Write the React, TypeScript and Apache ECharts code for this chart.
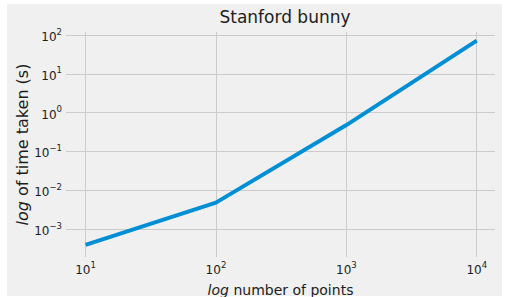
import React, { useEffect, useRef } from "react";
import * as echarts from "echarts";

const numberOfPoints = [10, 100, 1000, 10000];
const timeTaken = [3.9e-4, 4.8e-3, 0.48, 72];
const titleText = "Stanford bunny";
const xAxisName = "{i|log} number of points";
const yAxisName = "{i|log} of time taken (s)";

const FONT = "DejaVu Sans";
const TEXT = "#1c1c1c";
const GRID = "#cbcbcb";

function powLabel(v: number): string {
  const e = Math.log10(v);
  const r = Math.round(e);
  if (Math.abs(e - r) > 1e-6) return "";
  const s = r < 0 ? "\u2212" + -r : String(r);
  return "{b|10}{s|" + s + "}";
}

const richLabel = {
  b: { fontFamily: FONT, fontSize: 12, color: TEXT, lineHeight: 16, verticalAlign: "bottom" },
  s: { fontFamily: FONT, fontSize: 8.5, color: TEXT, lineHeight: 16, verticalAlign: "top" },
};

export default function App() {
  const ref = useRef<HTMLDivElement>(null);
  useEffect(() => {
    if (!ref.current) return;
    const chart = echarts.init(ref.current, undefined, { renderer: "svg" });
    chart.setOption({
      animation: false,
      backgroundColor: "transparent",
      title: {
        text: titleText,
        left: 280,
        textAlign: "center",
        top: 3,
        textStyle: { fontFamily: FONT, fontSize: 17, fontWeight: "normal", color: TEXT },
      },
      grid: { left: 66, right: 15, top: 32, bottom: 40, containLabel: false, outerBoundsMode: "none" },
      xAxis: {
        type: "log",
        logBase: 10,
        min: Math.pow(10, 0.85),
        max: Math.pow(10, 4.14),
        name: xAxisName,
        nameLocation: "middle",
        nameMoveOverlap: false,
        nameGap: 26,
        nameTextStyle: {
          fontFamily: FONT,
          fontSize: 14,
          color: TEXT,
          rich: { i: { fontFamily: FONT, fontSize: 14, fontStyle: "italic", color: TEXT } },
        },
        axisLine: { show: false },
        axisTick: { show: false },
        axisLabel: {
          margin: 3,
          formatter: powLabel,
          rich: richLabel,
          showMinLabel: false,
          showMaxLabel: false,
        },
        splitLine: { show: true, showMinLine: false, showMaxLine: false, lineStyle: { color: GRID, width: 1 } },
      },
      yAxis: {
        type: "log",
        logBase: 10,
        min: Math.pow(10, -3.72),
        max: Math.pow(10, 2.08),
        name: yAxisName,
        nameLocation: "middle",
        nameMoveOverlap: false,
        nameGap: 36,
        nameTextStyle: {
          fontFamily: FONT,
          fontSize: 16,
          color: TEXT,
          rich: { i: { fontFamily: FONT, fontSize: 16, fontStyle: "italic", color: TEXT } },
        },
        axisLine: { show: false },
        axisTick: { show: false },
        axisLabel: {
          margin: 4,
          formatter: powLabel,
          rich: richLabel,
          showMinLabel: false,
          showMaxLabel: false,
        },
        splitLine: { show: true, showMinLine: false, showMaxLine: false, lineStyle: { color: GRID, width: 1 } },
      },
      series: [
        {
          type: "line",
          data: numberOfPoints.map((x, i) => [x, timeTaken[i]]),
          showSymbol: false,
          lineStyle: { color: "#008fd5", width: 4 },
          itemStyle: { color: "#008fd5" },
        },
      ],
    });
    return () => chart.dispose();
  }, []);

  return (
    <div style={{ position: "fixed", left: 0, top: 0, width: 510, height: 297, background: "#ffffff" }}>
      <div style={{ position: "absolute", left: 7, top: 4, width: 495, height: 292, background: "#f0f0f0" }} />
      <div ref={ref} style={{ position: "absolute", left: 0, top: 0, width: 510, height: 297 }} />
    </div>
  );
}
